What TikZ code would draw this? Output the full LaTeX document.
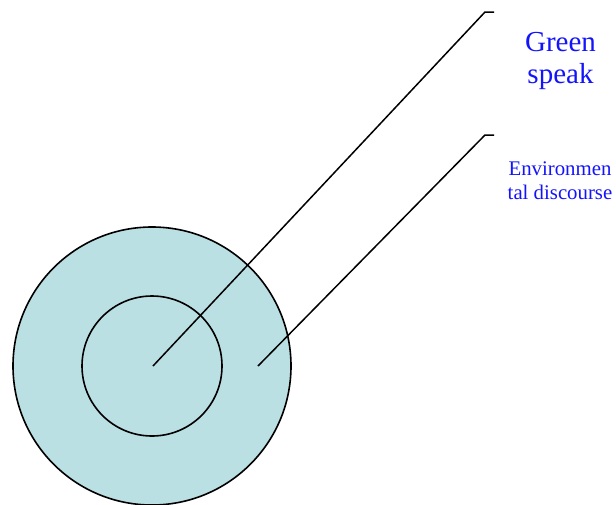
\documentclass[tikz,border=0pt]{standalone}
\usepackage{fontspec}
\setmainfont{Liberation Serif}
\definecolor{ringfill}{RGB}{187,224,227}
\definecolor{labelblue}{RGB}{20,20,250}
\begin{document}
\begin{tikzpicture}[x=1pt,y=-1pt,
  ring/.style={circle,draw=black,line width=1.6pt,fill=ringfill,inner sep=0pt,outer sep=0pt},
  leader/.style={draw=black,line width=1.5pt},
  biglabel/.style={text=labelblue,align=center,inner sep=0pt,font=\fontsize{29}{32}\selectfont},
  smalllabel/.style={text=labelblue,align=center,inner sep=0pt,font=\fontsize{20.8}{23.3}\selectfont}]
\useasboundingbox (0,0) rectangle (616,504);
\node[ring,minimum size=278pt] (outer) at (152,366) {};
\node[ring,minimum size=140pt] (inner) at (152,366) {};
\coordinate (p1) at (153,366);
\coordinate (k1) at (485,12);
\coordinate (e1) at (494,12);
\coordinate (p2) at (258,366);
\coordinate (k2) at (485,135);
\coordinate (e2) at (494,135);
\path[leader] (p1) -- (k1) -- (e1);
\path[leader] (p2) -- (k2) -- (e2);
\node[biglabel,anchor=base] (green) at (560.5,83.3) {Green\\speak};
\node[smalllabel,anchor=base] (env) at (560,199) {Environmen\\tal discourse};
\end{tikzpicture}
\end{document}
